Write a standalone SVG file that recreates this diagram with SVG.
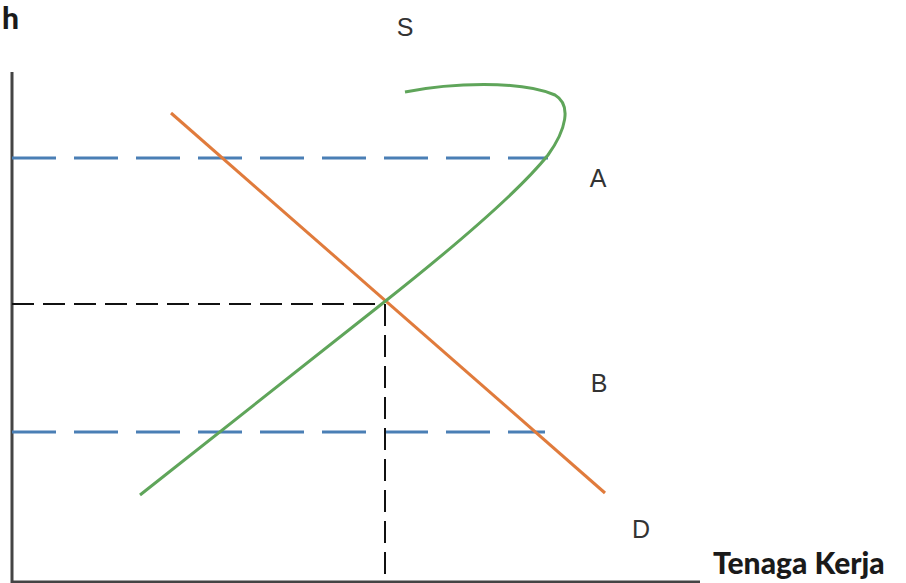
<svg xmlns="http://www.w3.org/2000/svg" width="906" height="583" viewBox="0 0 906 583">
<style>
.axis{stroke:#444;stroke-width:3;fill:none}
.blue{stroke:#4a7fb5;stroke-width:3;stroke-dasharray:44 18;fill:none}
.blk{stroke:#111;stroke-width:2;stroke-dasharray:22 9;fill:none}
.lbl{font-family:"Liberation Sans",Arial,sans-serif;font-size:25px;fill:#333;text-anchor:middle}
.title{font-family:Lato,"Liberation Sans",sans-serif;font-weight:900;font-size:30px;fill:#1a1a1a}
</style>
<rect width="906" height="583" fill="#fff"/>
<g id="axes">
<line class="axis" x1="12" y1="72" x2="12" y2="583"/>
<line class="axis" x1="12" y1="582" x2="700" y2="582"/>
</g>
<g id="connectors">
<line class="blue" x1="12" y1="158" x2="548" y2="158"/>
<line class="blue" x1="12" y1="432" x2="545" y2="432"/>
<line class="blk" x1="12" y1="304" x2="383" y2="304"/>
<line class="blk" x1="385" y1="304" x2="385" y2="583"/>
</g>
<g id="demand">
<line x1="171" y1="113" x2="605" y2="493" stroke="#e07b3c" stroke-width="3"/>
</g>
<g id="supply">
<path d="M140,495 L383,303 C450,250 520,190 548,155 C566,130 572,105 555,95 C520,80 450,83 405,92" fill="none" stroke="#5fa55a" stroke-width="3"/>
</g>
<g id="labels">
<text class="lbl" x="405" y="36">S</text>
<text class="lbl" x="598" y="187">A</text>
<text class="lbl" x="599" y="392">B</text>
<text class="lbl" x="641" y="538">D</text>
<text class="title" x="2" y="29">h</text>
<text class="title" x="713" y="574">Tenaga Kerja</text>
</g>
</svg>
